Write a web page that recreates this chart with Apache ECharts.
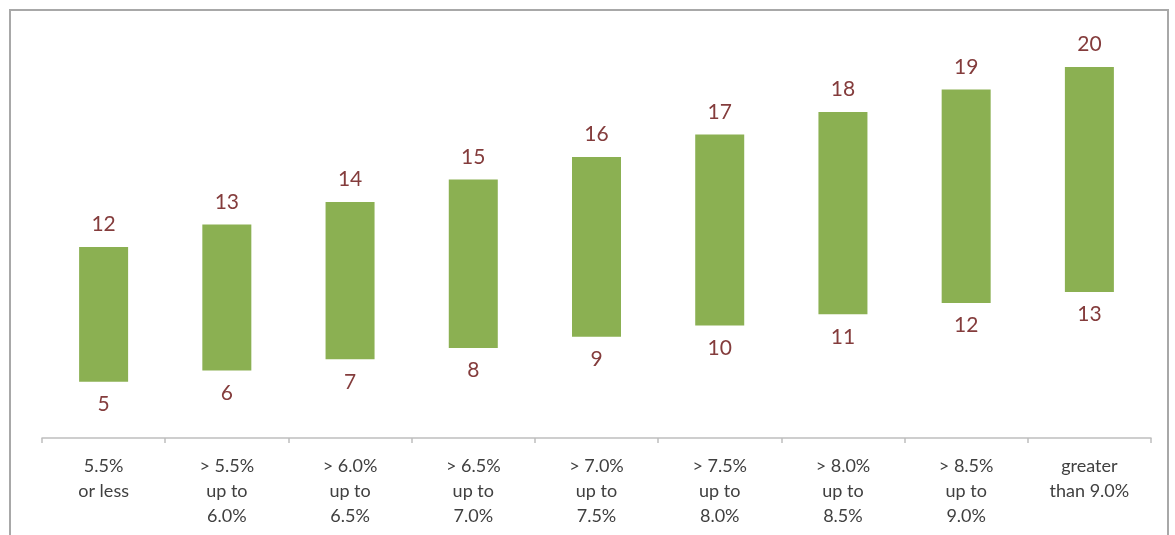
<!DOCTYPE html>
<html>
<head>
<meta charset="utf-8">
<script src="https://cdn.jsdelivr.net/npm/echarts@6/dist/echarts.min.js"></script>
<style>
  html, body { margin: 0; padding: 0; background: #fff; }
  #wrap { position: relative; width: 1175px; height: 535px; overflow: hidden; }
  #frame { position: absolute; left: 9px; top: 9px; width: 1160px; height: 560px; border: 2px solid #a8a8a8; box-sizing: border-box; }
  #chart { position: absolute; left: 0; top: 0; width: 1175px; height: 535px; }
</style>
</head>
<body>
<div id="wrap">
  <div id="frame"></div>
  <div id="chart"></div>
</div>
<script>
// categories (rate bands)
var categories = [
  '5.5%\nor less',
  '> 5.5%\nup to\n6.0%',
  '> 6.0%\nup to\n6.5%',
  '> 6.5%\nup to\n7.0%',
  '> 7.0%\nup to\n7.5%',
  '> 7.5%\nup to\n8.0%',
  '> 8.0%\nup to\n8.5%',
  '> 8.5%\nup to\n9.0%',
  'greater\nthan 9.0%'
]
// low end (invisible base) and high end (green bar, stacked on top)
var lowValues = [5, 6, 7, 8, 9, 10, 11, 12, 13]
var highValues = [12, 13, 14, 15, 16, 17, 18, 19, 20]

var chart = echarts.init(document.getElementById('chart'))

var labelColor = '#843c3c'
var font = 'Lato, "Open Sans", sans-serif'

chart.setOption({
  animation: false,
  grid: {
    left: 42,
    right: 24,
    top: 44.6,
    bottom: 97
  },
  xAxis: {
    type: 'category',
    data: categories,
    axisLine: { lineStyle: { color: '#bfbfbf', width: 1.5 } },
    axisTick: { show: true, interval: 0, length: 5, lineStyle: { color: '#bfbfbf', width: 1.5 } },
    axisLabel: {
      interval: 0,
      margin: 16,
      color: '#404040',
      fontSize: 18,
      lineHeight: 25,
      fontFamily: font
    }
  },
  yAxis: {
    type: 'value',
    min: 0,
    max: 35,
    show: false,
    splitLine: { show: false }
  },
  series: [
    {
      name: 'low',
      type: 'bar',
      stack: 'range',
      data: lowValues,
      barWidth: 49,
      itemStyle: { color: 'transparent' },
      label: {
        show: true,
        position: 'insideTop',
        distance: 12,
        color: labelColor,
        fontSize: 21,
        fontFamily: font
      }
    },
    {
      name: 'high',
      type: 'bar',
      stack: 'range',
      data: highValues,
      barWidth: 49,
      itemStyle: { color: '#8bb052' },
      label: {
        show: true,
        position: 'top',
        distance: 12,
        color: labelColor,
        fontSize: 21,
        fontFamily: font
      }
    }
  ]
})
</script>
</body>
</html>
